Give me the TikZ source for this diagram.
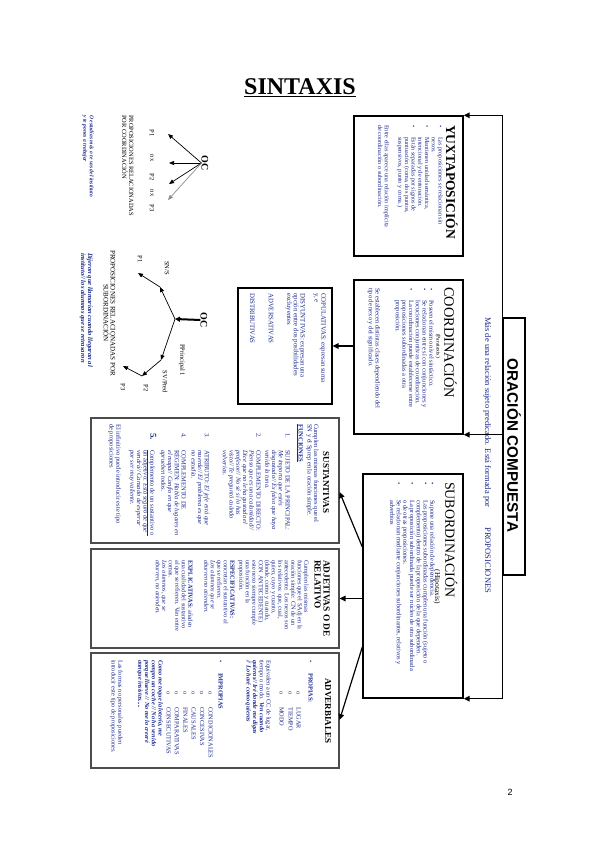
\documentclass[tikz,border=0pt]{standalone}
\usepackage{fontspec}
\setmainfont{Liberation Serif}
\setsansfont{Liberation Sans}
\usepackage{tikz}
\usetikzlibrary{arrows.meta,positioning}
\definecolor{inkblue}{HTML}{1B2A8C}
\newcommand\bulit[1][12pt]{\makebox[#1][l]{\textbullet}}
\newcommand\indt[1][12pt]{\hspace*{#1}}
\newcommand\numit[1]{\hspace*{9pt}\makebox[17pt][l]{#1}}
\newcommand\numind{\hspace*{26pt}}
\newcommand\subit{\hspace*{31pt}\makebox[16pt][l]{o}}
\newcommand\tightlines{\lineskiplimit=-5pt\relax}

\begin{document}
\begin{tikzpicture}[x=1pt,y=-1pt,
  box/.style={draw,line width=1.4pt,inner sep=0pt},
  panel/.style={draw=black!70,line width=1.1pt,inner sep=0pt},
  vtxt/.style={rotate=-90,anchor=north west,inner sep=0pt,align=left,text=inkblue,
    font=\fontsize{6.3}{6.7}\selectfont\tightlines},
  vhead/.style={rotate=-90,anchor=north west,inner sep=0pt},
  vlbl/.style={rotate=-90,inner sep=0pt,font=\fontsize{6.5}{7}\selectfont},
  vtitle/.style={rotate=-90,inner sep=0pt,font=\bfseries\fontsize{9}{9}\selectfont},
  flow/.style={-{Triangle[length=6pt,width=5.5pt]},line width=1.5pt},
  tree/.style={-{Triangle[length=5pt,width=4pt]},line width=0.7pt}]
\useasboundingbox (0,0) rectangle (599,848);

% cabecera y pagina
\node[font=\bfseries\fontsize{24}{26}\selectfont] (titulo) at (300,88) {\underline{SINTAXIS}};
\node[font=\sffamily\fontsize{9}{10}\selectfont] (pagina) at (510,792) {2};

% oracion compuesta
\node[box,line width=1.2pt,minimum width=22pt,minimum height=257pt] (orac) at (514,446.5) {};
\node[rotate=-90,inner sep=0pt,font=\sffamily\bfseries\fontsize{15.3}{16}\selectfont] (oractit) at (514,445.5) {ORACIÓN COMPUESTA};
\node[vtxt,anchor=base west,font=\fontsize{8.5}{9}\selectfont] (def) at (485,317) {Más de una relación sujeto predicado. Está formada por\hspace{20pt}PROPOSICIONES};

% yuxtaposicion
\node[box,minimum width=109pt,minimum height=140pt] (yux) at (408.5,186) {};
\node[vhead,font=\bfseries\fontsize{13.5}{15}\selectfont] (yuxtit) at (458,125) {YUXTAPOSICIÓN};
\node[vtxt,font=\fontsize{6.2}{6.7}\selectfont\tightlines] (yuxtxt) at (443,125) {%
\bulit Las proposiciones se relacionan sin\\
\indt nexos.\\
\bulit Mantienen unidad semántica,\\
\indt intencional y de entonación.\\
\bulit Están separadas por signos de\\
\indt puntuación (coma, dos puntos,\\
\indt suspensivos, punto y coma.)\\[6.7pt]
Entre ellas aparece una relación implícita\\
de coordinación o subordinación.};

% coordinacion
\node[box,minimum width=109pt,minimum height=154pt] (coord) at (408.5,357) {};
\node[vhead,font=\fontsize{14.4}{15}\selectfont] (coordtit) at (457,287) {COORDINACIÓN};
\node[vlbl,font=\fontsize{5.5}{6}\selectfont] (parat) at (438,346) {(Parataxis)};
\node[vtxt,font=\fontsize{6.5}{6.7}\selectfont\tightlines] (coordtxt) at (434,288) {%
\bulit Poseen el mismo nivel sintáctico.\\
\bulit Se relacionan entre sí con conjunciones y\\
\indt locuciones conjuntivas de coordinación.\\
\bulit La coordinación puede establecerse entre\\
\indt proposiciones subordinadas a otra\\
\indt proposición.\\[13.4pt]
Se establecen distintas clases dependiendo del\\
tipo de nexo y del significado.};

\node[box,line width=1.1pt,minimum width=94pt,minimum height=116pt] (clases) at (285,346) {};
\node[vtxt,font=\fontsize{6.8}{6.7}\selectfont\tightlines] (clasestxt) at (326,293) {%
COPULATIVAS: expresan suma\\
y, e\\[7.3pt]
DISYUNTIVAS: expresan una\\
opción entre dos posibilidades\\
excluyentes\\[11.6pt]
ADVERSATIVAS\\[12pt]
DISTRIBUTIVAS};

% subordinacion
\node[box,minimum width=100pt,minimum height=224pt] (sub) at (413,586) {};
\node[vhead,font=\fontsize{13.9}{15}\selectfont] (subtit) at (457.5,482) {SUBORDINACIÓN};
\node[vlbl,font=\fontsize{7.5}{8}\selectfont] (hipot) at (437,587) {(Hipotaxis)};
\node[vtxt,font=\fontsize{6.5}{6.7}\selectfont\tightlines] (subtxt) at (435,482) {%
\bulit[18pt]Supone una relación de dependencia.\\
\bulit[18pt]Las proposiciones subordinadas cumplen una función (sujeto o\\
\indt[18pt]complemento) dentro de la proposición de la que dependen.\\
\bulit[18pt]La proposición subordinada puede ser núcleo de otra subordinada\\
\indt[18pt]o de otras proposiciones.\\
\bulit[18pt]Se relacionan mediante conjunciones subordinantes, relativos y\\
\indt[18pt]adverbios};

% sustantivas
\node[panel,minimum width=248pt,minimum height=125pt] (sust) at (215,480.5) {};
\node[vtitle] (susttit) at (326,482.5) {SUSTANTIVAS};
\node[vtxt,font=\fontsize{6.5}{6.7}\selectfont\tightlines] (susttxt) at (319,424) {%
Cumplen las mismas funciones que el\\
SN y el Sprep en la oración simple.\\[2.3pt]
\underline{\textbf{FUNCIONES}}\\[6.3pt]
\numit{1.}SUJETO DE LA PRINCIPAL:\\
\numind\textit{Me importa que estés}\\
\numind\textit{disgustado// Es falso que haya}\\
\numind\textit{venido la tuna.}\\[2.3pt]
\numit{2.}COMPLEMENTO DIRECTO:\\
\numind\textit{Pienso que es una calamidad//}\\
\numind\textit{Dice que no le ha gustado el}\\
\numind\textit{profesor// No sé si lo has}\\
\numind\textit{visto// Te preguntó cuándo}\\
\numind\textit{volverías.}\\[11.3pt]
\numit{3.}ATRIBUTO: \textit{El jefe está que}\\
\numind\textit{muerde// El problema es que}\\
\numind\textit{no estudia.}\\[3.3pt]
\numit{4.}COMPLEMENTO DE\\
\numind RÉGIMEN: \textit{Habla de lugares en}\\
\numind\textit{el mapa// Confío en que}\\
\numind\textit{aprueben todos.}\\[4.3pt]
\numit{{\bfseries\fontsize{9}{6}\selectfont 5.}}\underline{Complemento de un sustantivo o}\\
\numind un adjetivo: \textit{Está seguro de que}\\
\numind\textit{vendrá// Cansado de esperar}\\
\numind\textit{por ser muy valiente.}\\[7.3pt]
El infinitivo puede introducir este tipo\\
de proposiciones};

% adjetivas
\node[panel,minimum width=248pt,minimum height=99pt] (adj) at (215,598.5) {};
\node[vhead,align=left,font=\bfseries\fontsize{9.3}{9}\selectfont] (adjtit) at (330,560) {ADJETIVAS O DE\\RELATIVO};
\node[vtxt,font=\fontsize{6.3}{6.5}\selectfont\tightlines] (adjtxt) at (309,560) {%
Cumplen las mismas\\
funciones que el SAdj en la\\
oración simple: CN de un\\
antecedente. Los nexos son\\
los relativos: que, cual,\\
quien, cuyo y cuanto,\\
(donde, como y cuando,\\
CON ANTECEDENTE)\\
este nexo siempre cumple\\
una función en la\\
proposición.\\[2.5pt]
\textbf{ESPECIFICATIVAS:}\\
concretan el sustantivo al\\
que se refieren.\\
\textit{Los alumnos que se}\\
\textit{aburren no atienden.}\\[9.5pt]
\textbf{EXPLICATIVAS:} añaden\\
una cualidad del sustantivo\\
al que se refieren. Van entre\\
comas.\\
\textit{Los alumnos, que se}\\
\textit{aburren, no atienden.}};

% adverbiales
\node[panel,minimum width=248pt,minimum height=115pt] (adv) at (215,710.5) {};
\node[vtitle] (advtit) at (328,711) {ADVERBIALES};
\node[vtxt] (advtxt) at (313,660) {%
\bulit[13pt]\textbf{PROPIAS:}\\[5.3pt]
\subit LUGAR\\[1.3pt]
\subit TIEMPO\\[2.3pt]
\subit MODO\\[6.3pt]
Equivalen a un CC de lugar,\\
tiempo o modo. \textbf{\textit{Ven cuando}}\\
\textbf{\textit{quieras// Iré donde me digas}}\\
\textbf{\textit{// Lo haré como quieras}}\\[21.3pt]
\bulit[13pt]\textbf{IMPROPIAS}\\[3.3pt]
\subit CONDICIONALES\\[1.7pt]
\subit CONCESIVAS\\[1.7pt]
\subit CAUSALES\\[1.7pt]
\subit FINALES\\[1.7pt]
\subit COMPARATIVAS\\[1.7pt]
\subit CONSECUTIVAS\\[1.3pt]
\textbf{\textit{Como me toque la lotería, me}}\\
\textbf{\textit{compro un coche // No ha venido}}\\
\textbf{\textit{porque llueve // No me lo creeré}}\\
\textbf{\textit{aunque insistas.....}}\\[13.3pt]
Las formas no personales pueden\\
introducir este tipo de proposiciones.};

% esquema de coordinacion
\node[vlbl,font=\bfseries\fontsize{10}{11}\selectfont] (oca) at (205,163) {OC};
\coordinate (ta) at (168,134);
\coordinate (tb) at (169,163);
\coordinate (tc) at (169,184);
\coordinate (td) at (168,200);
\node[vlbl] (pa) at (152,133) {P1};
\node[vlbl] (nxa) at (152,158) {nx};
\node[vlbl] (pb) at (152,177) {P2};
\node[vlbl] (nxb) at (152,193) {nx};
\node[vlbl] (pc) at (152,208) {P3};
\node[vtxt,text=black,font=\fontsize{6.4}{7}\selectfont] (coordlbl) at (133.5,115) {PROPOSICIONES RELACIONADAS\\POR COORDINACIÓN};
\node[vtxt,font=\bfseries\itshape\fontsize{5.6}{6.5}\selectfont] (coordej) at (94,115) {O estudias más o te vas del instituto\\y te pones a trabajar};

% esquema de subordinacion
\node[vlbl,font=\bfseries\fontsize{10}{11}\selectfont] (ocb) at (204,320) {OC};
\coordinate (jb) at (175,319);
\coordinate (sn) at (160,287);
\coordinate (pone) at (138,273);
\coordinate (sv) at (161,360);
\coordinate (ptwo) at (142,376);
\coordinate (pthree) at (123,366);
\node[vlbl] (snlbl) at (167,268) {SN/S};
\node[vlbl] (ponelbl) at (140,259) {P1};
\node[vlbl] (pprlbl) at (182,360) {PPrincipal 1};
\node[vlbl] (svlbl) at (165,382) {SV/Pred};
\node[vlbl] (ptwolbl) at (146,388) {P2};
\node[vlbl] (pthreelbl) at (123,387) {P3};
\node[vtxt,text=black,align=center,font=\fontsize{7}{7}\selectfont] (sublbl) at (115.5,250) {PROPOSICIONES RELACIONADAS POR\\SUBORDINACIÓN};
\node[vtxt,font=\bfseries\itshape\fontsize{6.6}{7}\selectfont] (subej) at (93,253) {Dijeron que llamarían cuando llegaran al\\instituto// los alumnos que se retrasaron};

% conectores
\draw[flow] (orac.north west) |- (yux.north east);
\draw[flow] (orac.west |- coord.south east) -- (coord.south east);
\draw[flow] (orac.south west) |- (sub.south east);
\draw[flow] (coord.west |- clases.east) -- (clases.east);
\draw[flow,line width=1.2pt] ([yshift=39pt]sub.west) -- ([yshift=-11.5pt]sust.east);
\draw[flow] (sub.west |- adj.east) -- (adj.east);
\draw[flow,line width=1.2pt] ([yshift=-61pt]sub.west) -- ([yshift=-9.5pt]adv.east);

\draw[tree] (oca.south) -- (ta);
\draw[tree] (oca.south) -- (tb);
\draw[tree] (oca.south) -- (tc);
\draw[tree,black!45] (oca.south) -- (td);

\draw[-{Triangle[length=5pt,width=5pt]},line width=2pt] (ocb.south) -- (jb);
\draw[tree] (jb) -- (sn);
\draw[tree] (sn) -- (pone);
\draw[tree] (jb) -- (sv);
\draw[tree] (sv) -- (ptwo);
\draw[tree] (ptwo) -- (pthree);
\end{tikzpicture}
\end{document}
